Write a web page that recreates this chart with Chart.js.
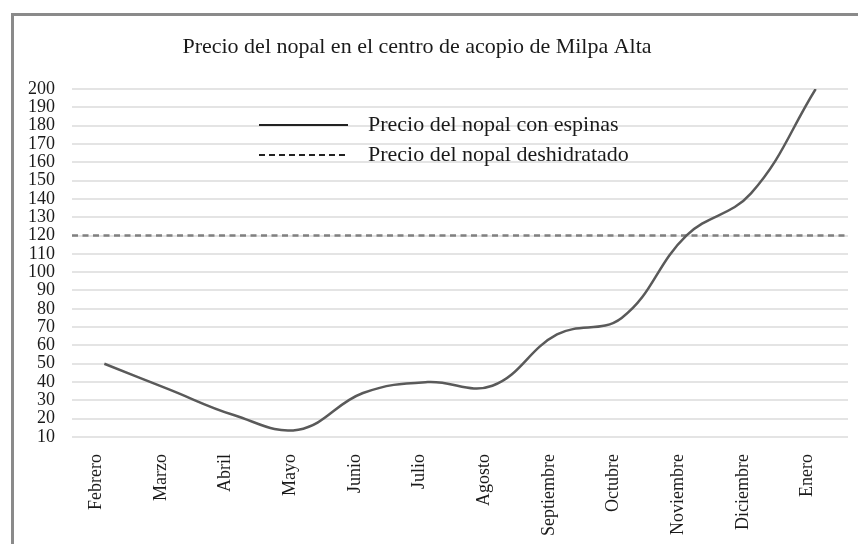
<!DOCTYPE html>
<html>
<head>
<meta charset="utf-8">
<script src="https://cdn.jsdelivr.net/npm/chart.js@4.4.0/dist/chart.umd.min.js"></script>
<style>
  html, body { margin: 0; padding: 0; background: #fff; }
  #wrap { position: relative; width: 858px; height: 544px; overflow: hidden; }
  #frame {
    position: absolute; left: 11px; top: 13px; right: -10px; bottom: -10px;
    border-top: 3px solid #8a8a8a; border-left: 3px solid #8a8a8a;
    pointer-events: none;
  }
</style>
</head>
<body>
<div id="wrap">
  <canvas id="chart" width="858" height="544"></canvas>
  <div id="frame"></div>
</div>
<script>
// --- Data ---
const months = ['Febrero', 'Marzo', 'Abril', 'Mayo', 'Junio', 'Julio',
  'Agosto', 'Septiembre', 'Octubre', 'Noviembre', 'Diciembre', 'Enero'];
const priceWithSpines = [50, 36, 22, 14, 34, 40, 38, 66, 75, 120, 143, 200];
// the dehydrated price is flat across the whole plot width
const dehydratedSpan = [0, 1];
const dehydratedPrice = [120, 120];

const chartTitle = 'Precio del nopal en el centro de acopio de Milpa Alta';
const seriesNames = ['Precio del nopal con espinas', 'Precio del nopal deshidratado'];

const yMin = 10, yMax = 200, yStep = 10;

const SERIF = '"Liberation Serif", "DejaVu Serif", serif';
const INK = '#1a1a1a';

// --- title + legend drawn inside the plot, like the original ---
const overlayPlugin = {
  id: 'overlay',
  afterDraw(chart) {
    const ctx = chart.ctx;
    const area = chart.chartArea;
    ctx.save();
    ctx.fillStyle = INK;
    ctx.font = '22px ' + SERIF;
    ctx.textAlign = 'center';
    ctx.textBaseline = 'middle';
    ctx.fillText(chartTitle, 417, 47);

    // legend
    const x0 = area.left + 187;
    const len = 89;
    chart.data.datasets.forEach((ds, i) => {
      const y = area.top + 36 + i * 30;
      ctx.beginPath();
      ctx.strokeStyle = '#222';
      ctx.lineWidth = 2;
      ctx.setLineDash(ds.borderDash && ds.borderDash.length ? [6, 4] : []);
      ctx.moveTo(x0, y);
      ctx.lineTo(x0 + len, y);
      ctx.stroke();
      ctx.setLineDash([]);
      ctx.textAlign = 'left';
      ctx.fillText(ds.label, x0 + len + 20, y);
    });
    ctx.restore();
  }
};

new Chart(document.getElementById('chart'), {
  type: 'line',
  data: {
    labels: months,
    datasets: [
      {
        label: seriesNames[0],
        data: priceWithSpines,
        borderColor: '#5a5a5a',
        borderWidth: 2.5,
        tension: 0.4,
        pointRadius: 0,
        fill: false
      },
      {
        label: seriesNames[1],
        data: dehydratedSpan.map((x, i) => ({ x: x, y: dehydratedPrice[i] })),
        xAxisID: 'x2',
        borderColor: '#808080',
        borderWidth: 2.5,
        borderDash: [6, 4.5],
        pointRadius: 0,
        fill: false
      }
    ]
  },
  options: {
    responsive: false,
    animation: false,
    layout: { padding: { top: 89, right: 10, left: 0, bottom: 0 } },
    plugins: {
      legend: { display: false },
      title: { display: false },
      tooltip: { enabled: false }
    },
    scales: {
      x: {
        type: 'category',
        offset: true,
        grid: { display: false, drawTicks: false },
        border: { display: false },
        ticks: {
          color: INK,
          font: { family: SERIF, size: 18 },
          minRotation: 90,
          maxRotation: 90,
          autoSkip: false,
          padding: 17,
          labelOffset: -8
        },
        afterFit(scale) { scale.height = 107; }
      },
      x2: {
        type: 'linear',
        display: false,
        min: 0,
        max: 1
      },
      y: {
        min: yMin,
        max: yMax,
        grid: { color: '#e4e4e4', lineWidth: 2, drawTicks: false },
        border: { display: false },
        ticks: {
          stepSize: yStep,
          autoSkip: false,
          color: INK,
          font: { family: SERIF, size: 18 },
          padding: 17
        },
        afterFit(scale) { scale.width = 72; }
      }
    }
  },
  plugins: [overlayPlugin]
});
</script>
</body>
</html>
